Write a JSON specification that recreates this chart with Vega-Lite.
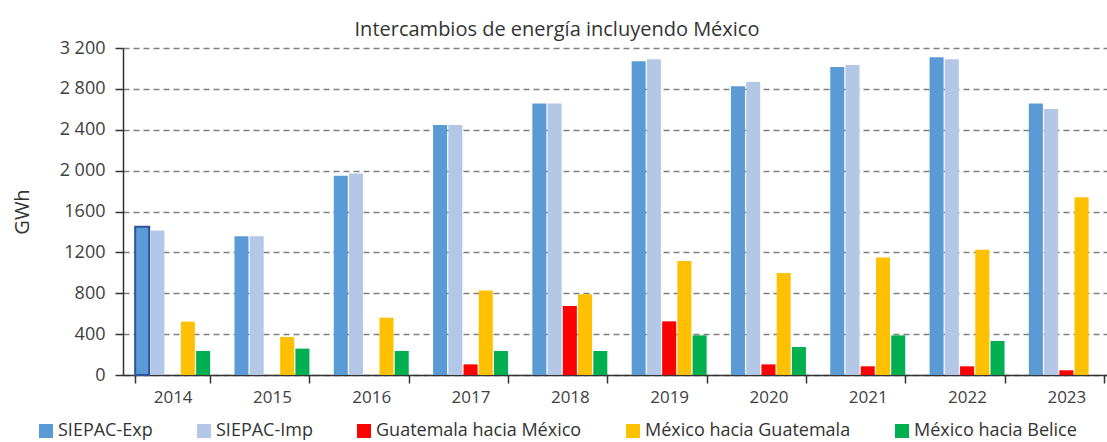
{
  "$schema": "https://vega.github.io/schema/vega-lite/v6.json",
  "width": 984,
  "height": 327,
  "autosize": "none",
  "padding": {"left": 123, "top": 48, "right": 0, "bottom": 67},
  "config": {"font": "Open Sans", "view": {"stroke": null}},
  "title": {"text": "Intercambios de energía incluyendo México", "fontSize": 20, "fontWeight": "normal", "color": "#333333", "dx": -58, "dy": 9, "offset": 8},
  "data": {"values": [
    {"year": "2014", "series": "SIEPAC-Exp", "gwh": 1451},
    {"year": "2014", "series": "SIEPAC-Imp", "gwh": 1415},
    {"year": "2014", "series": "México hacia Guatemala", "gwh": 522},
    {"year": "2014", "series": "México hacia Belice", "gwh": 235},
    {"year": "2015", "series": "SIEPAC-Exp", "gwh": 1359},
    {"year": "2015", "series": "SIEPAC-Imp", "gwh": 1359},
    {"year": "2015", "series": "México hacia Guatemala", "gwh": 372},
    {"year": "2015", "series": "México hacia Belice", "gwh": 258},
    {"year": "2016", "series": "SIEPAC-Exp", "gwh": 1951},
    {"year": "2016", "series": "SIEPAC-Imp", "gwh": 1971},
    {"year": "2016", "series": "México hacia Guatemala", "gwh": 561},
    {"year": "2016", "series": "México hacia Belice", "gwh": 235},
    {"year": "2017", "series": "SIEPAC-Exp", "gwh": 2446},
    {"year": "2017", "series": "SIEPAC-Imp", "gwh": 2446},
    {"year": "2017", "series": "Guatemala hacia México", "gwh": 104},
    {"year": "2017", "series": "México hacia Guatemala", "gwh": 828},
    {"year": "2017", "series": "México hacia Belice", "gwh": 235},
    {"year": "2018", "series": "SIEPAC-Exp", "gwh": 2657},
    {"year": "2018", "series": "SIEPAC-Imp", "gwh": 2657},
    {"year": "2018", "series": "Guatemala hacia México", "gwh": 675},
    {"year": "2018", "series": "México hacia Guatemala", "gwh": 789},
    {"year": "2018", "series": "México hacia Belice", "gwh": 235},
    {"year": "2019", "series": "SIEPAC-Exp", "gwh": 3070},
    {"year": "2019", "series": "SIEPAC-Imp", "gwh": 3089},
    {"year": "2019", "series": "Guatemala hacia México", "gwh": 525},
    {"year": "2019", "series": "México hacia Guatemala", "gwh": 1115},
    {"year": "2019", "series": "México hacia Belice", "gwh": 388},
    {"year": "2020", "series": "SIEPAC-Exp", "gwh": 2826},
    {"year": "2020", "series": "SIEPAC-Imp", "gwh": 2868},
    {"year": "2020", "series": "Guatemala hacia México", "gwh": 104},
    {"year": "2020", "series": "México hacia Guatemala", "gwh": 998},
    {"year": "2020", "series": "México hacia Belice", "gwh": 274},
    {"year": "2021", "series": "SIEPAC-Exp", "gwh": 3015},
    {"year": "2021", "series": "SIEPAC-Imp", "gwh": 3034},
    {"year": "2021", "series": "Guatemala hacia México", "gwh": 85},
    {"year": "2021", "series": "México hacia Guatemala", "gwh": 1151},
    {"year": "2021", "series": "México hacia Belice", "gwh": 388},
    {"year": "2022", "series": "SIEPAC-Exp", "gwh": 3109},
    {"year": "2022", "series": "SIEPAC-Imp", "gwh": 3089},
    {"year": "2022", "series": "Guatemala hacia México", "gwh": 85},
    {"year": "2022", "series": "México hacia Guatemala", "gwh": 1226},
    {"year": "2022", "series": "México hacia Belice", "gwh": 333},
    {"year": "2023", "series": "SIEPAC-Exp", "gwh": 2657},
    {"year": "2023", "series": "SIEPAC-Imp", "gwh": 2602},
    {"year": "2023", "series": "Guatemala hacia México", "gwh": 46},
    {"year": "2023", "series": "México hacia Guatemala", "gwh": 1740}
  ]},
  "mark": {"type": "bar", "stroke": "#2F5597"},
  "encoding": {
    "x": {
      "field": "year", "type": "nominal",
      "scale": {"range": [0, 993], "paddingInner": 0.245, "paddingOuter": 0.1225},
      "axis": {"title": null, "labelAngle": 0, "labelFontSize": 17, "labelColor": "#404040", "domainColor": "#333333", "domainWidth": 1.5, "tickColor": "#333333", "tickWidth": 1.5, "tickBand": "extent", "tickSize": 8, "labelPadding": 6}
    },
    "xOffset": {
      "field": "series", "type": "nominal",
      "sort": ["SIEPAC-Exp", "SIEPAC-Imp", "Guatemala hacia México", "México hacia Guatemala", "México hacia Belice"],
      "scale": {"paddingInner": 0.08, "paddingOuter": 0}
    },
    "y": {
      "field": "gwh", "type": "quantitative",
      "scale": {"domain": [0, 3200], "nice": false},
      "axis": {
        "title": "GWh", "titleFontSize": 20, "titleFontWeight": "normal", "titleColor": "#333333", "titlePadding": 27,
        "values": [0, 400, 800, 1200, 1600, 2000, 2400, 2800, 3200],
        "labelExpr": "datum.value >= 2000 ? replace(format(datum.value, ','), ',', ' ') : format(datum.value, 'd')",
        "labelFontSize": 18, "labelColor": "#404040", "labelPadding": 10,
        "domainColor": "#333333", "domainWidth": 1.5, "tickColor": "#333333", "tickSize": 8, "tickWidth": 1.5,
        "grid": true, "gridDash": [6, 4], "gridColor": "#808080", "gridWidth": 1.3
      }
    },
    "color": {
      "field": "series", "type": "nominal",
      "scale": {
        "domain": ["SIEPAC-Exp", "SIEPAC-Imp", "Guatemala hacia México", "México hacia Guatemala", "México hacia Belice"],
        "range": ["#5B9BD5", "#B4C7E7", "#FF0000", "#FFC000", "#00B050"]
      },
      "legend": {
        "orient": "none", "direction": "horizontal", "legendX": -86, "legendY": 374,
        "title": null, "symbolType": "square", "symbolSize": 196, "symbolStrokeWidth": 0,
        "labelFontSize": 18, "labelColor": "#333333", "columnPadding": 42, "labelOffset": 3, "labelLimit": 400
      }
    },
    "strokeWidth": {
      "condition": {"test": "datum.year == '2014' && datum.series == 'SIEPAC-Exp'", "value": 2},
      "value": 0
    }
  }
}
